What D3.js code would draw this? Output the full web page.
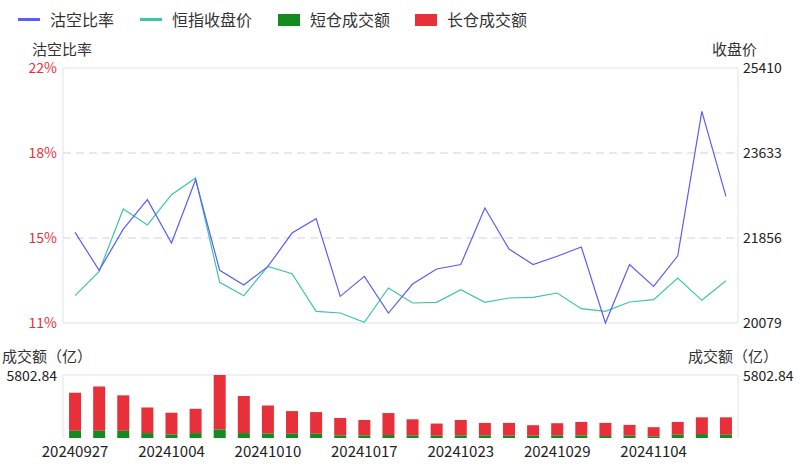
<!DOCTYPE html>
<html><head><meta charset="utf-8">
<script src="https://cdn.jsdelivr.net/npm/d3@7"></script>
<style>body{margin:0;background:#fff}text{font-family:"Microsoft YaHei","Noto Sans CJK SC",sans-serif}</style>
</head><body><svg id="c" width="800" height="466"></svg>
<script>
const dates = ["20240927","20240930","20241002","20241003","20241004","20241007","20241008","20241009","20241010","20241014","20241015","20241016","20241017","20241018","20241021","20241022","20241023","20241024","20241025","20241028","20241029","20241030","20241031","20241101","20241104","20241105","20241106","20241107"];
const ratio = [14.91,13.27,15.05,16.32,14.45,17.18,13.27,12.64,13.44,14.88,15.50,12.15,13.01,11.43,12.68,13.33,13.52,15.96,14.19,13.52,13.88,14.28,11.0,13.52,12.58,13.90,20.13,16.46];
const close = [20650,21159,22462,22128,22762,23110,20929,20650,21264,21110,20323,20288,20093,20811,20497,20511,20776,20511,20602,20616,20706,20379,20323,20518,20567,21020,20553,20964];
const total = [4170,4745,3929,2811,2327,2690,5803,3868,2992,2478,2388,1844,1662,2297,1723,1330,1662,1390,1390,1179,1360,1481,1390,1209,997,1481,1904,1904];
const shortAmt = [665,665,665,453,332,453,786,453,423,393,393,242,242,272,242,212,242,242,212,212,242,242,181,212,151,302,363,302];

const svg = d3.select("#c");
const L = 63, R = 738;
const x = d3.scaleBand().domain(dates).range([L, R]);
const cx = d => x(d) + x.bandwidth() / 2;

// legend
const leg = [["沽空比率","#5b5ef5","line"],["恒指收盘价","#3cc6a8","line"],["短仓成交额","#138a1f","rect"],["长仓成交额","#e8303a","rect"]];
const lx = [18, 140, 278, 415];
leg.forEach(([t, c, k], i) => {
  const g = svg.append("g").attr("transform", `translate(${lx[i]},20)`);
  if (k === "line") g.append("rect").attr("x", 0).attr("y", -2).attr("width", 22).attr("height", 3).attr("fill", c);
  else g.append("rect").attr("x", 0).attr("y", -6).attr("width", 22).attr("height", 12).attr("fill", c);
  g.append("text").attr("x", 32).attr("y", 6).attr("font-size", 16).attr("fill", "#333").text(t);
});

// top chart
const yTop = 68, yBot = 323;
const yL = d3.scaleLinear().domain([11, 22]).range([yBot, yTop]);
const yR = d3.scaleLinear().domain([20079, 25410]).range([yBot, yTop]);
const lt = [11, 11 + 11 / 3, 11 + 22 / 3, 22];
const rt = [20079, 21856, 23633, 25410];
lt.forEach((v, i) => {
  const y = yL(v);
  svg.append("line").attr("x1", L).attr("x2", R).attr("y1", y).attr("y2", y)
    .attr("stroke", "#e0e0ee").attr("stroke-width", (i === 1 || i === 2) ? 1.5 : 1)
    .attr("stroke-dasharray", (i === 1 || i === 2) ? "8,5" : null);
  svg.append("text").attr("x", 57).attr("y", y + 5).attr("text-anchor", "end").attr("font-size", 14).attr("fill", "#e8303a").text(Math.round(v) + "%");
  svg.append("text").attr("x", 743).attr("y", y + 5).attr("font-size", 14).attr("fill", "#222").text(rt[i]);
});
[L, R].forEach(v => svg.append("line").attr("x1", v).attr("x2", v).attr("y1", yTop).attr("y2", yBot).attr("stroke", "#e0e0ee"));
svg.append("text").attr("x", 32).attr("y", 55).attr("font-size", 15).attr("fill", "#333").text("沽空比率");
svg.append("text").attr("x", 712).attr("y", 55).attr("font-size", 15).attr("fill", "#333").text("收盘价");

svg.append("path").datum(close).attr("fill", "none").attr("stroke", "#3cc6a8").attr("stroke-width", 1.2)
  .attr("d", d3.line().x((d, i) => cx(dates[i])).y(d => yR(d)));
svg.append("path").datum(ratio).attr("fill", "none").attr("stroke", "#5b5ef5").attr("stroke-width", 1.2)
  .attr("d", d3.line().x((d, i) => cx(dates[i])).y(d => yL(d)));

// bottom chart
const bTop = 375, bBot = 438;
const yB = d3.scaleLinear().domain([0, 5802.84]).range([bBot, bTop]);
svg.append("line").attr("x1", L).attr("x2", R).attr("y1", bTop).attr("y2", bTop).attr("stroke", "#e0e0ee");
[L, R].forEach(v => svg.append("line").attr("x1", v).attr("x2", v).attr("y1", bTop).attr("y2", bBot).attr("stroke", "#e0e0ee"));
svg.append("text").attr("x", 2).attr("y", 362).attr("font-size", 15).attr("fill", "#333").text("成交额（亿）");
svg.append("text").attr("x", 688).attr("y", 362).attr("font-size", 15).attr("fill", "#333").text("成交额（亿）");
svg.append("text").attr("x", 57).attr("y", bTop + 6).attr("text-anchor", "end").attr("font-size", 14).attr("fill", "#222").text("5802.84");
svg.append("text").attr("x", 743).attr("y", bTop + 6).attr("font-size", 14).attr("fill", "#222").text("5802.84");
const bw = 12;
svg.append("g").selectAll("rect").data(dates).join("rect")
  .attr("x", d => cx(d) - bw / 2).attr("width", bw)
  .attr("y", (d, i) => yB(total[i])).attr("height", (d, i) => yB(shortAmt[i]) - yB(total[i]))
  .attr("fill", "#e8303a");
svg.append("g").selectAll("rect").data(dates).join("rect")
  .attr("x", d => cx(d) - bw / 2).attr("width", bw)
  .attr("y", (d, i) => yB(shortAmt[i])).attr("height", (d, i) => bBot - yB(shortAmt[i]))
  .attr("fill", "#138a1f");
const xa = svg.append("g").attr("transform", `translate(0,${bBot})`)
  .call(d3.axisBottom(x).tickValues(dates.filter((d, i) => i % 4 === 0)).tickSize(0).tickPadding(8));
xa.select(".domain").remove();
xa.selectAll("text").attr("font-size", 15).attr("fill", "#222").style("font-family", "'Microsoft YaHei','Noto Sans CJK SC',sans-serif");
</script></body></html>
